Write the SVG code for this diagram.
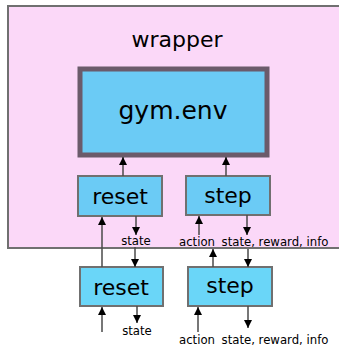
<svg xmlns="http://www.w3.org/2000/svg" width="339" height="346" viewBox="0 0 339 346">
  <style>
    .box { fill: #6bcbf5; stroke: #707070; stroke-width: 2; }
    .box.outer { fill: #6ad6f8; }
    .big { font-family: "DejaVu Sans", sans-serif; font-size: 22px; fill: #000; text-anchor: middle; }
    .lbl { font-family: "DejaVu Sans Condensed", "DejaVu Sans", sans-serif; font-stretch: condensed; font-size: 13px; fill: #000; text-anchor: middle; }
    .wire { stroke: #4a4a4a; stroke-width: 1.5; fill: none; marker-end: url(#head); }
  </style>
  <defs>
    <marker id="head" viewBox="0 0 8 10" refX="8" refY="5" markerWidth="8" markerHeight="10" markerUnits="userSpaceOnUse" orient="auto">
      <path d="M0,1 L8,5 L0,9 Z" fill="#000"/>
    </marker>
  </defs>

  <!-- outer wrapper -->
  <g id="wrapper">
    <rect x="8" y="6" width="340" height="242" fill="#fbd8f8" stroke="#707070" stroke-width="2"/>
    <text class="big" x="177" y="47" style="font-size:22px">wrapper</text>
  </g>

  <!-- wrapped environment -->
  <g id="gym-env">
    <rect x="80" y="69" width="187" height="86" fill="#6bcbf5" stroke="#6b5b6b" stroke-width="5"/>
    <text class="big" x="173" y="119" style="font-size:25px">gym.env</text>
  </g>

  <g id="reset-inner">
    <rect class="box" x="78" y="176" width="84" height="40"/>
    <text class="big" x="120" y="204">reset</text>
  </g>
  <g id="step-inner">
    <rect class="box" x="186" y="176" width="84" height="39"/>
    <text class="big" x="228" y="203">step</text>
  </g>
  <g id="reset-outer">
    <rect class="box outer" x="80" y="267" width="83" height="39"/>
    <text class="big" x="121" y="295">reset</text>
  </g>
  <g id="step-outer">
    <rect class="box outer" x="188" y="267" width="84" height="39"/>
    <text class="big" x="230" y="293">step</text>
  </g>

  <!-- connectors -->
  <g id="connectors">
    <line class="wire" x1="123" y1="176" x2="123" y2="157"/>
    <line class="wire" x1="226" y1="176" x2="226" y2="157"/>
    <line class="wire" x1="136" y1="216" x2="136" y2="235"/>
    <line class="wire" x1="135" y1="247" x2="135" y2="267"/>
    <line class="wire" x1="102" y1="267" x2="102" y2="217"/>
    <line class="wire" x1="102" y1="332" x2="102" y2="307"/>
    <line class="wire" x1="137" y1="306" x2="137" y2="323"/>
    <line class="wire" x1="199" y1="235" x2="199" y2="216"/>
    <line class="wire" x1="247" y1="215" x2="247" y2="235"/>
    <line class="wire" x1="213" y1="267" x2="213" y2="249"/>
    <line class="wire" x1="248" y1="249" x2="248" y2="267"/>
    <line class="wire" x1="198" y1="332" x2="198" y2="307"/>
    <line class="wire" x1="248" y1="306" x2="248" y2="328"/>
  </g>

  <g id="labels">
    <text class="lbl" x="136" y="245">state</text>
    <text class="lbl" x="197" y="246">action</text>
    <text class="lbl" x="275" y="246">state, reward, info</text>
    <text class="lbl" x="137" y="335">state</text>
    <text class="lbl" x="197" y="344">action</text>
    <text class="lbl" x="275" y="344">state, reward, info</text>
  </g>
</svg>
